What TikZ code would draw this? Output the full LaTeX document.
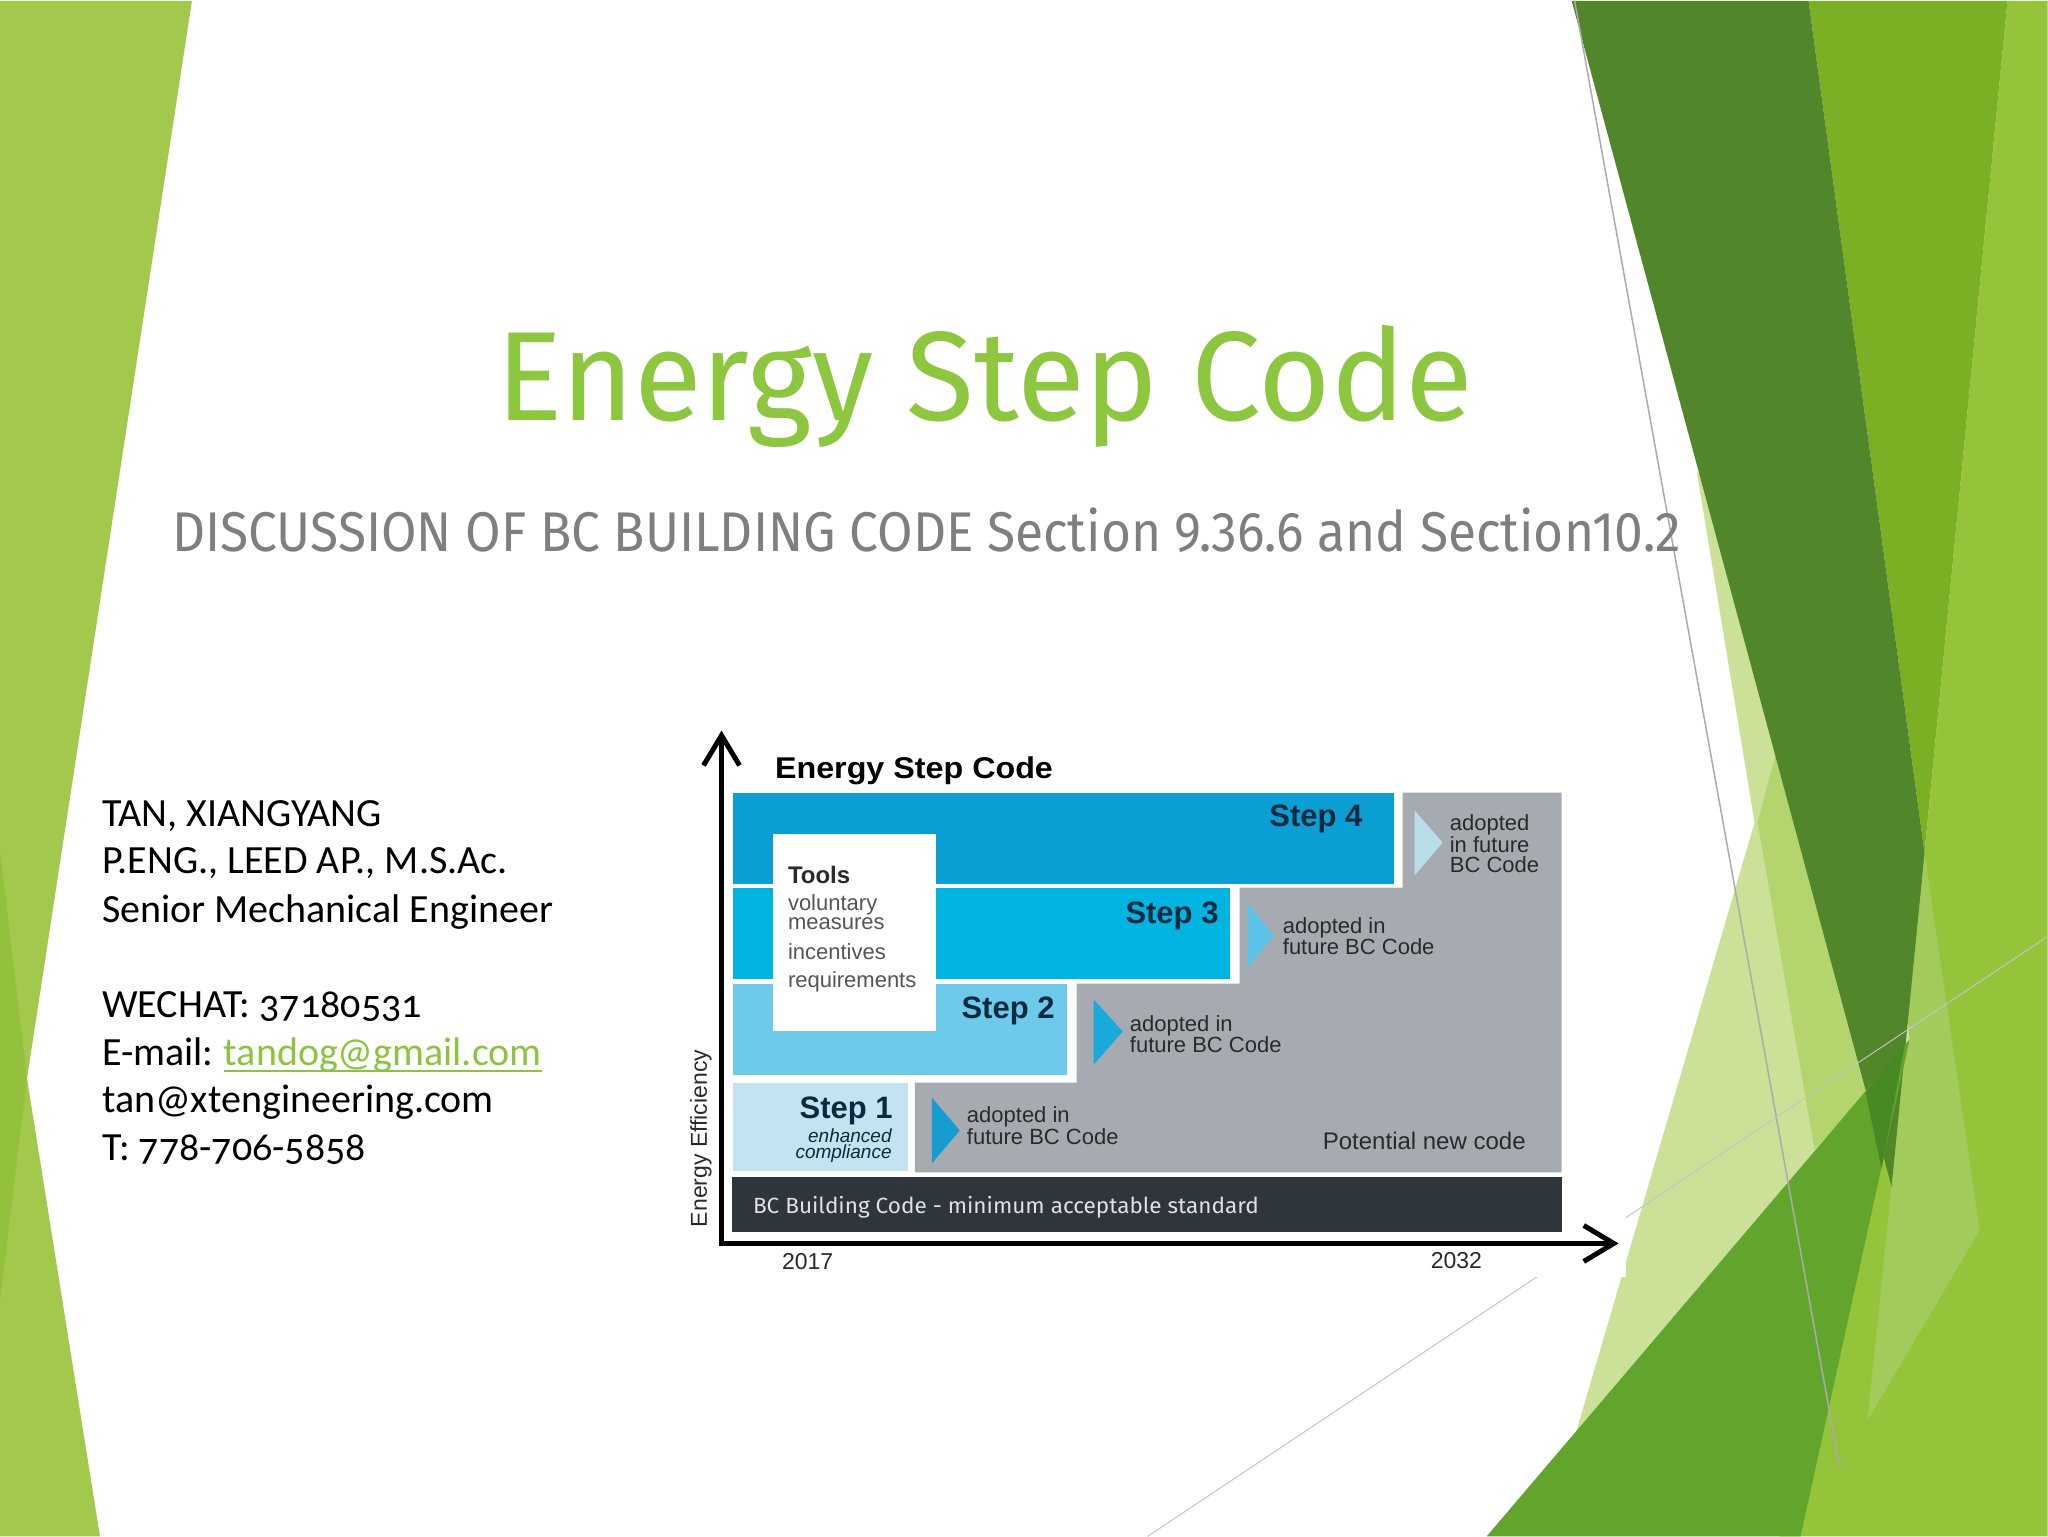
\documentclass[tikz,border=0pt]{standalone}
\usepackage{fontspec}
\usepackage{graphicx}
\usepackage{xcolor}
\setmainfont{Carlito}
\newfontfamily\bodyfont{Carlito}[Numbers=OldStyle]
\newfontfamily\titlefont{Fira Sans}
\newfontfamily\chartfont{Liberation Sans}
\newfontfamily\barfont{Fira Sans}
\definecolor{TitleGreen}{HTML}{8DC63F}
\definecolor{SubGray}{HTML}{7F7F80}
\definecolor{LinkGreen}{HTML}{8CC43F}
\definecolor{LeafLight}{HTML}{A2C94B}
\definecolor{LeafLeftDark}{HTML}{94C13C}
\definecolor{LeafDark}{HTML}{52862A}
\definecolor{LeafMid}{HTML}{7BB025}
\definecolor{LeafBright}{HTML}{95C43B}
\definecolor{LeafSoft}{HTML}{A3CB5B}
\definecolor{LeafPale}{HTML}{CCE198}
\definecolor{LeafPaleMid}{HTML}{B4D56E}
\definecolor{LeafGrass}{HTML}{62A52C}
\definecolor{LeafDeep}{HTML}{478A21}
\definecolor{LineGray}{HTML}{ABABAB}
\definecolor{StepFour}{HTML}{0C9FD3}
\definecolor{StepThree}{HTML}{00B4E2}
\definecolor{StepTwo}{HTML}{6DCAEA}
\definecolor{StepOne}{HTML}{C4E3F0}
\definecolor{CueFour}{HTML}{BADDEA}
\definecolor{CueThree}{HTML}{5BC3E8}
\definecolor{CueTwo}{HTML}{1BA8DB}
\definecolor{CueOne}{HTML}{179CD0}
\definecolor{FutureGray}{HTML}{A6ABB1}
\definecolor{BaseDark}{HTML}{2E353D}
\definecolor{StepInk}{HTML}{0B2A40}
\definecolor{NoteInk}{HTML}{2A2A2A}
\definecolor{ToolInk}{HTML}{555555}
\usetikzlibrary{arrows.meta}
\newcommand{\pxsize}[2]{\fontsize{#1}{#2}\selectfont}
\newcommand{\fitto}[2]{\resizebox{#1}{\height}{#2}}
\tikzset{
  leaf/.style={fill=#1, draw=none},
  bar/.style={fill=#1, draw=none},
  cue/.style={fill=#1, draw=none},
  info/.style={font=\bodyfont\pxsize{40}{47.5}, anchor=base west, inner sep=0pt},
  steplbl/.style={font=\chartfont\bfseries\pxsize{31}{31}, text=StepInk, anchor=base east, inner sep=0pt},
  futlbl/.style={font=\chartfont\pxsize{22}{20.5}, text=NoteInk, align=left, anchor=base west, inner sep=0pt},
  toollbl/.style={font=\chartfont\pxsize{22}{22}, text=ToolInk, anchor=base west, inner sep=0pt},
  yearlbl/.style={font=\chartfont\pxsize{23}{23}, text=NoteInk, anchor=base west, inner sep=0pt},
  axis/.style={line width=5pt, -{Straight Barb[length=30pt,width=36pt]}},
}

\begin{document}
\begin{tikzpicture}[x=1pt, y=-1pt]

  % page
  \fill[white] (0,0) rectangle (2048,1536);

  % left leaves
  \fill[leaf=LeafLight] (0,0) -- (192,0) -- (27,1078) -- (100,1536) -- (0,1536) -- cycle;
  \fill[leaf=LeafLeftDark] (0,850) -- (27,1078) -- (0,1300) -- cycle;

  % right leaves
  \fill[leaf=LeafBright] (2008,0) -- (2048,0) -- (2048,1536) -- (1780,1536) -- (1860,1000) -- (1925,852) -- cycle;
  \fill[leaf=LeafSoft] (1925,852) -- (1980,1230) -- (1868,1420) -- (1892,1186) -- cycle;
  \fill[leaf=LeafMid] (1809,0) -- (2008,0) -- (1925,852) -- cycle;
  \fill[leaf=LeafPale] (1697,470) -- (1755,822) -- (1577,1430) -- (1910,1039) -- (1880,750) -- cycle;
  \fill[leaf=LeafPaleMid] (1776,754) -- (1758,822) -- (1815,1149) -- (1866,1092) -- cycle;
  \fill[leaf=LeafDark] (1572,0) -- (1809,0) -- (1925,852) -- (1892,1186) -- cycle;
  \fill[leaf=LeafGrass] (1487,1536) -- (1910,1039) -- (1801,1536) -- cycle;
  \fill[leaf=LeafDeep] (1866,1092) -- (1906,1040) -- (1882,1168) -- cycle;
  \draw[LineGray, line width=1.5pt] (1575,0) -- (1840,1467);
  \draw[LineGray!70, line width=1pt] (1148,1536) -- (2048,936);

  % title block
  \node[font=\titlefont\pxsize{127}{127}, text=TitleGreen, anchor=base west, inner sep=0pt]
    (title) at (496,420) {\fitto{977pt}{Energy Step Code}};
  \node[font=\titlefont\pxsize{56}{56}, text=SubGray, anchor=base west, inner sep=0pt]
    (subtitle) at (172,551) {\fitto{1509pt}{DISCUSSION OF BC BUILDING CODE Section 9.36.6 and Section10.2}};

  % contact block
  \node[info] (name)  at (102,826)  {TAN, XIANGYANG};
  \node[info] (cred)  at (102,873)  {P.ENG., LEED AP., M.S.Ac.};
  \node[info] (role)  at (102,922)  {Senior Mechanical Engineer};
  \node[info] (wechat) at (102,1017) {WECHAT: 37180531};
  \node[info] (mailhead) at (102,1065) {E-mail:};
  \node[info, text=LinkGreen] (mail) at ([xshift=10pt]mailhead.base east) {tandog@gmail.com};
  \draw[LinkGreen, line width=2pt] ([yshift=-5pt]mail.base west) -- ([yshift=-5pt]mail.base east);
  \node[info] (work)  at (102,1112) {tan@xtengineering.com};
  \node[info] (phone) at (102,1160) {T: 778-706-5858};

  % chart backdrop
  \fill[white] (680,700) rectangle (1626,1277);

  % future code area
  \fill[bar=FutureGray] (915,1082) -- (1077,1082) -- (1077,983) -- (1240,983) -- (1240,887)
    -- (1403,887) -- (1403,792) -- (1562,792) -- (1562,1172) -- (915,1172) -- cycle;

  % steps
  \fill[bar=StepFour]  (733,792)  rectangle (1394,883);
  \fill[bar=StepThree] (733,887)  rectangle (1230,978);
  \fill[bar=StepTwo]   (733,983)  rectangle (1067,1074);
  \fill[bar=StepOne]   (733,1082) rectangle (908,1171);
  \fill[bar=BaseDark]  (732,1177) rectangle (1562,1232);
  \fill[white] (773,833) rectangle (936,1030);

  % cues
  \fill[cue=CueFour]  (1415,810) -- (1443,842) -- (1415,875) -- cycle;
  \fill[cue=CueThree] (1248,903) -- (1274,935) -- (1248,967) -- cycle;
  \fill[cue=CueTwo]   (1094,999) -- (1123,1031) -- (1094,1064) -- cycle;
  \fill[cue=CueOne]   (932,1097) -- (960,1130) -- (932,1163) -- cycle;

  % axes
  \coordinate (origin) at (721.7,1243);
  \coordinate (ytop) at (721.7,730);
  \coordinate (xend) at (1619,1243);
  \draw[axis] ([yshift=2.5pt]origin) -- (ytop);
  \draw[axis] ([xshift=-2.5pt]origin) -- (xend);

  % chart labels
  \node[font=\chartfont\bfseries\pxsize{30}{30}, anchor=base west, inner sep=0pt]
    (charttitle) at (775,778) {\fitto{278pt}{Energy Step Code}};
  \node[steplbl] (step4) at (1363,826)  {Step 4};
  \node[steplbl] (step3) at (1219,923)  {Step 3};
  \node[steplbl] (step2) at (1055,1018) {Step 2};
  \node[steplbl] (step1) at (893,1118)  {Step 1};
  \node[font=\chartfont\itshape\pxsize{19}{16}, text=StepInk, align=right, anchor=base east, inner sep=0pt]
    (enh) at (892,1158) {enhanced\\compliance};

  \node[font=\chartfont\bfseries\pxsize{24}{24}, text=NoteInk, anchor=base west, inner sep=0pt]
    (tools) at (788,883) {Tools};
  \node[toollbl] (vol)  at (788,910) {voluntary};
  \node[toollbl] (meas) at (788,929) {measures};
  \node[toollbl] (inc)  at (788,959) {incentives};
  \node[toollbl] (req)  at (788,987) {requirements};

  \node[futlbl] (fut4) at (1450,872)  {adopted\\in future\\BC Code};
  \node[futlbl] (fut3) at (1283,954)  {adopted in\\future BC Code};
  \node[futlbl] (fut2) at (1130,1052) {adopted in\\future BC Code};
  \node[futlbl] (fut1) at (967,1144)  {adopted in\\future BC Code};
  \node[font=\chartfont\pxsize{24}{24}, text=NoteInk, anchor=base west, inner sep=0pt]
    (newcode) at (1323,1149) {Potential new code};

  \node[font=\barfont\pxsize{22}{22}, text=white!85!BaseDark, anchor=base west, inner sep=0pt]
    (basecode) at (753,1213) {\fitto{506pt}{BC Building Code - minimum acceptable standard}};

  \node[yearlbl] (y2017) at (782,1269)  {2017};
  \node[yearlbl] (y2032) at (1431,1268) {2032};
  \node[font=\chartfont\pxsize{23}{23}, text=NoteInk, rotate=90, inner sep=0pt]
    (effic) at (701,1138) {Energy Efficiency};

\end{tikzpicture}
\end{document}
